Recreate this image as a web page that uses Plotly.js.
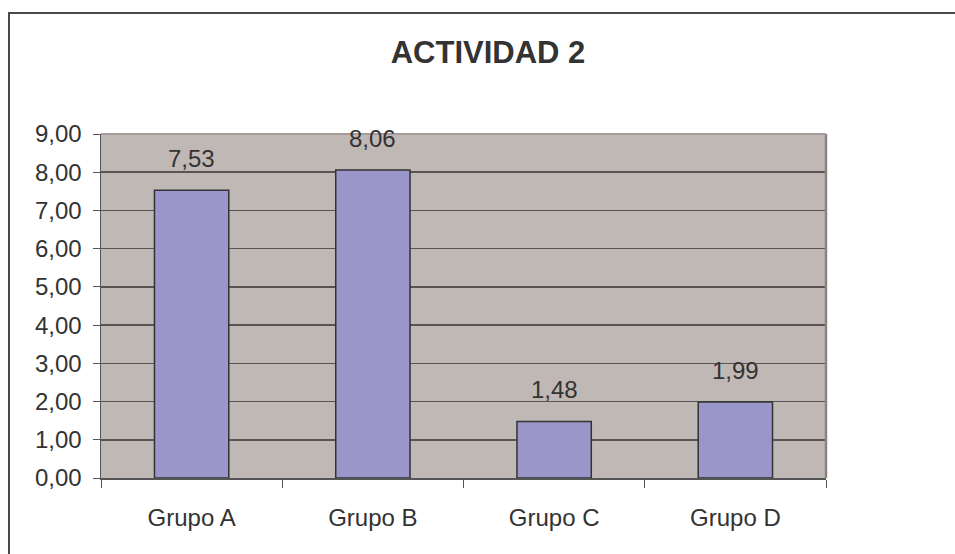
<!DOCTYPE html>
<html>
<head>
<meta charset="utf-8">
<script src="https://cdn.plot.ly/plotly-3.0.1.min.js"></script>
<style>
  body { margin: 0; background: #fff; }
  #chart { position: absolute; left: 0; top: 0; width: 955px; height: 554px; }
  #frame { position: absolute; left: 8px; top: 12px; width: 947px; height: 542px;
           border-left: 2px solid #4a4a4a; border-top: 2px solid #4a4a4a; pointer-events: none; }
</style>
</head>
<body>
<div id="chart"></div>
<div id="frame"></div>
<script>
// data
var grupos = ["Grupo A", "Grupo B", "Grupo C", "Grupo D"];
var valores = [7.53, 8.06, 1.48, 1.99];
var etiquetas = ["7,53", "8,06", "1,48", "1,99"];

var font = "Liberation Sans, Arial, sans-serif";

var trace = {
  x: grupos,
  y: valores,
  type: "bar",
  width: 0.41,
  marker: {color: "#9b96c9", line: {color: "#333333", width: 1.5}},
  hoverinfo: "none"
};

// value labels above bars
var notas = grupos.map(function (g, i) {
  return {
    x: g, y: valores[i], text: etiquetas[i],
    xref: "x", yref: "y", yanchor: "bottom", yshift: 16,
    showarrow: false, font: {family: font, size: 24, color: "#333"}
  };
});

var layout = {
  width: 955,
  height: 554,
  margin: {l: 101, r: 129, t: 134, b: 76},
  paper_bgcolor: "#ffffff",
  plot_bgcolor: "#c0b8b5",
  separators: ",.",
  showlegend: false,
  title: {
    text: "<b>ACTIVIDAD 2</b>",
    font: {family: font, size: 31, color: "#333"},
    x: 0.511, xanchor: "center", y: 0.906, yanchor: "middle"
  },
  xaxis: {
    type: "category",
    tickson: "boundaries",
    ticks: "outside", ticklen: 8, tickcolor: "#555", tickwidth: 1,
    showgrid: false,
    showline: true, linecolor: "#555", linewidth: 1.5,
    ticklabelstandoff: 18,
    tickfont: {family: font, size: 24, color: "#333"}
  },
  yaxis: {
    range: [0, 9],
    dtick: 1,
    tickformat: ".2f",
    ticks: "outside", ticklen: 7, tickcolor: "#555", tickwidth: 1,
    showgrid: true, gridcolor: "#595454", gridwidth: 1.5,
    zeroline: false,
    showline: true, linecolor: "#555", linewidth: 1.5,
    ticklabelstandoff: 6,
    tickfont: {family: font, size: 24, color: "#333"}
  },
  shapes: [
    {type: "line", xref: "paper", yref: "paper", x0: 1, x1: 1, y0: 0, y1: 1,
     line: {color: "#8c8282", width: 2.5}},
    {type: "line", xref: "paper", yref: "paper", x0: 0, x1: 1, y0: 1, y1: 1,
     line: {color: "#a69c9a", width: 2}}
  ],
  annotations: notas
};

Plotly.newPlot("chart", [trace], layout, {displayModeBar: false, staticPlot: true});
</script>
</body>
</html>
